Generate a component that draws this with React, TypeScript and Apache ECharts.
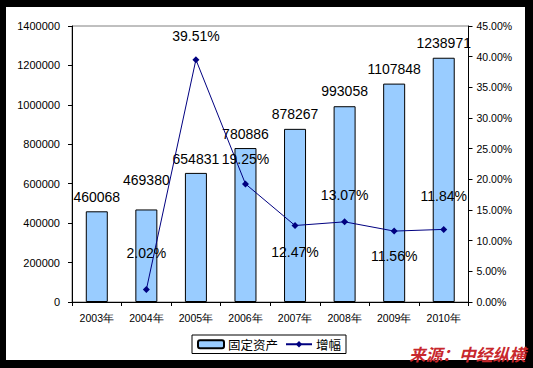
import React, { useEffect, useRef } from "react";
import * as echarts from "echarts";

const categories = ["2003年", "2004年", "2005年", "2006年", "2007年", "2008年", "2009年", "2010年"];
const assetValues = [460068, 469380, 654831, 780886, 878267, 993058, 1107848, 1238971];
const growthValues: (number | null)[] = [null, 2.02, 39.51, 19.25, 12.47, 13.07, 11.56, 11.84];
const leftTicks = { min: 0, max: 1400000, interval: 200000 };
const rightTicks = { min: 0, max: 45, interval: 5 };
const seriesNames = ["固定资产", "增幅"];
const sourceText = "来源：中经纵横";

// label placement (style only)
const barLabelDistance = [7, 22, 7, 7, 8, 8, 8, 8];
const lineLabelPos = ["top", "top", "top", "top", "bottom", "top", "bottom", "top"];
const lineLabelDistance = [0, 26, 13, 14, 16, 16, 14, 23];

const FONT = "Liberation Sans, Arial, sans-serif";

export default function App() {
  const ref = useRef<HTMLDivElement>(null);
  useEffect(() => {
    if (!ref.current) return;
    const chart = echarts.init(ref.current, undefined, { renderer: "svg" });
    const option: any = {
      animation: false,
      backgroundColor: "#000000",
      graphic: [
        {
          type: "rect",
          z: -10,
          silent: true,
          shape: { x: 6, y: 7, width: 519, height: 353 },
          style: { fill: "#ffffff" },
        },
        {
          type: "text",
          x: 409,
          y: 346,
          z: 10,
          style: {
            text: sourceText,
            fill: "#c8282d",
            font: "italic bold 16.7px 'Noto Sans CJK SC', sans-serif",
          },
        },
      ],
      grid: {
        left: 72,
        right: 533 - 468.5,
        top: 26,
        height: 276,
        show: true,
        borderColor: "#808080",
        borderWidth: 1,
        backgroundColor: "transparent",
      },
      legend: {
        left: 192,
        top: 335,
        padding: [3, 5, 3, 5],
        itemGap: 7,
        itemWidth: 26,
        itemHeight: 8,
        borderColor: "#000",
        borderWidth: 1,
        backgroundColor: "#fff",
        textStyle: { fontSize: 12.5, color: "#000", fontFamily: "'Noto Sans CJK SC', sans-serif", padding: [0, 0, 0, -1] },
        data: seriesNames,
      },
      xAxis: {
        type: "category",
        data: categories,
        boundaryGap: true,
        axisLine: { show: true, lineStyle: { color: "#000", width: 1 } },
        axisTick: { show: true, length: 4, lineStyle: { color: "#000" } },
        axisLabel: { fontSize: 10.5, color: "#000", fontFamily: FONT, margin: 10 },
        splitLine: { show: false },
      },
      yAxis: [
        {
          type: "value",
          min: leftTicks.min,
          max: leftTicks.max,
          interval: leftTicks.interval,
          axisLine: { show: true, lineStyle: { color: "#000", width: 1 } },
          axisTick: { show: true, length: 4, lineStyle: { color: "#000" } },
          axisLabel: { fontSize: 11, color: "#000", fontFamily: FONT, margin: 12, formatter: (v: number) => String(v) },
          splitLine: { show: false },
        },
        {
          type: "value",
          position: "right",
          min: rightTicks.min,
          max: rightTicks.max,
          interval: rightTicks.interval,
          axisLine: { show: true, lineStyle: { color: "#000", width: 1 } },
          axisTick: { show: true, length: 4, lineStyle: { color: "#000" } },
          axisLabel: { fontSize: 10.5, color: "#000", fontFamily: FONT, margin: 8, formatter: (v: number) => v.toFixed(2) + "%" },
          splitLine: { show: false },
        },
      ],
      series: [
        {
          name: seriesNames[0],
          type: "bar",
          yAxisIndex: 0,
          barWidth: 22,
          itemStyle: { color: "#99CCFF", borderColor: "#000", borderWidth: 1 },
          data: assetValues.map((v, i) => ({
            value: v,
            label: { show: true, position: "top", distance: barLabelDistance[i] },
          })),
          label: { show: true, position: "top", fontSize: 14, color: "#000", fontFamily: FONT },
          z: 2,
        },
        {
          name: seriesNames[1],
          type: "line",
          yAxisIndex: 1,
          symbol: "diamond",
          symbolSize: 7,
          connectNulls: false,
          lineStyle: { color: "#000080", width: 1 },
          itemStyle: { color: "#000080" },
          data: growthValues.map((v, i) =>
            v === null
              ? "-"
              : {
                  value: v,
                  label: { show: true, position: lineLabelPos[i], distance: lineLabelDistance[i] },
                }
          ),
          label: {
            show: true,
            fontSize: 14,
            color: "#000",
            fontFamily: FONT,
            formatter: (p: any) => Number(p.value).toFixed(2) + "%",
          },
          z: 5,
        },
      ],
    };
    chart.setOption(option);
    return () => chart.dispose();
  }, []);
  return <div ref={ref} style={{ position: "fixed", left: 0, top: 0, width: 533, height: 368 }} />;
}
